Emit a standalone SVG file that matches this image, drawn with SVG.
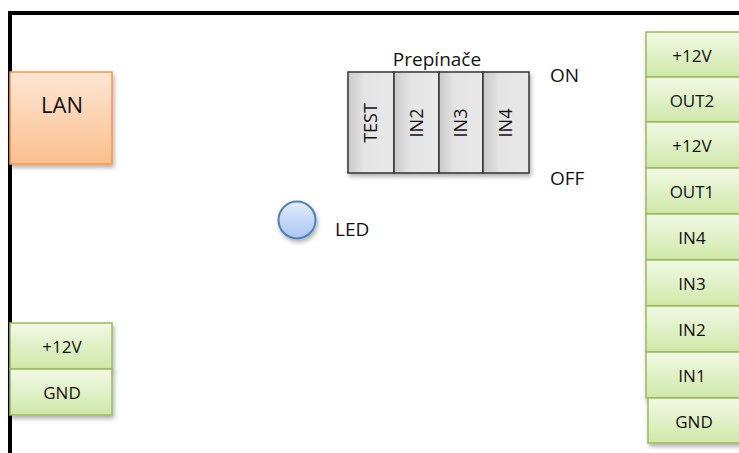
<svg xmlns="http://www.w3.org/2000/svg" width="739" height="453" viewBox="0 0 739 453">
<defs>
  <linearGradient id="gGreen" x1="0" y1="0" x2="0" y2="1">
    <stop offset="0" stop-color="#f2f9e6"/>
    <stop offset="1" stop-color="#cfe8a8"/>
  </linearGradient>
  <linearGradient id="gOrange" x1="0" y1="0" x2="0" y2="1">
    <stop offset="0" stop-color="#fee6d4"/>
    <stop offset="1" stop-color="#fbbf8e"/>
  </linearGradient>
  <linearGradient id="gGray" x1="0" y1="0" x2="1" y2="0">
    <stop offset="0" stop-color="#c9c9c9"/>
    <stop offset="0.35" stop-color="#e4e4e4"/>
    <stop offset="1" stop-color="#e9e9e9"/>
  </linearGradient>
  <linearGradient id="gBlue" x1="0" y1="0" x2="0" y2="1">
    <stop offset="0" stop-color="#e3edfc"/>
    <stop offset="1" stop-color="#a9c6f3"/>
  </linearGradient>
  <filter id="sh" x="-20%" y="-20%" width="140%" height="140%">
    <feDropShadow dx="1.5" dy="3" stdDeviation="2" flood-color="#000" flood-opacity="0.3"/>
  </filter>
</defs>
<style>
  text { font-family: "Open Sans", "Liberation Sans", sans-serif; fill: #111; }
  .green { fill: url(#gGreen); stroke: #9bbb59; stroke-width: 1.5; filter: url(#sh); }
  .orange { fill: url(#gOrange); stroke: #f79646; stroke-width: 1.5; filter: url(#sh); }
  .sw { fill: url(#gGray); stroke: #333; stroke-width: 1.5; }
  .lbl { font-size: 17px; text-anchor: middle; }
  .swl { font-size: 18px; text-anchor: middle; }
  .big { font-size: 22px; text-anchor: middle; }
  .side { font-size: 19px; }
</style>
<rect width="739" height="453" fill="#fff"/>

<g id="border">
  <path d="M10,453 V13 H739" fill="none" stroke="#000" stroke-width="4"/>
</g>

<g id="lan">
  <rect class="orange" x="10" y="72" width="102" height="92"/>
  <text class="big" x="62" y="113">LAN</text>
</g>

<g id="switches">
  <text class="side" x="437" y="66" text-anchor="middle">Prepínače</text>
  <g filter="url(#sh)">
    <rect class="sw" x="348" y="72" width="46" height="101"/>
    <rect class="sw" x="394" y="72" width="45" height="101"/>
    <rect class="sw" x="439" y="72" width="44" height="101"/>
    <rect class="sw" x="483" y="72" width="46" height="101"/>
  </g>
  <text class="swl" transform="translate(377,123) rotate(-90)">TEST</text>
  <text class="swl" transform="translate(423,123) rotate(-90)">IN2</text>
  <text class="swl" transform="translate(467,123) rotate(-90)">IN3</text>
  <text class="swl" transform="translate(512,123) rotate(-90)">IN4</text>
  <text class="side" x="550" y="82">ON</text>
  <text class="side" x="550" y="185">OFF</text>
</g>

<g id="led">
  <circle cx="297" cy="220" r="18.5" fill="url(#gBlue)" stroke="#4f81bd" stroke-width="2" filter="url(#sh)"/>
  <text class="side" x="335" y="236">LED</text>
</g>

<g id="power-left">
  <rect class="green" x="10" y="323" width="102" height="46"/>
  <text class="lbl" x="62" y="353">+12V</text>
  <rect class="green" x="10" y="369" width="102" height="46"/>
  <text class="lbl" x="62" y="399">GND</text>
</g>

<g id="terminal-right">
  <rect class="green" x="646" y="32" width="95" height="45"/>
  <text class="lbl" x="692" y="62">+12V</text>
  <rect class="green" x="646" y="77" width="95" height="45"/>
  <text class="lbl" x="692" y="107">OUT2</text>
  <rect class="green" x="646" y="122" width="95" height="46"/>
  <text class="lbl" x="692" y="152">+12V</text>
  <rect class="green" x="646" y="168" width="95" height="46"/>
  <text class="lbl" x="692" y="198">OUT1</text>
  <rect class="green" x="646" y="214" width="95" height="46"/>
  <text class="lbl" x="692" y="244">IN4</text>
  <rect class="green" x="646" y="260" width="95" height="46"/>
  <text class="lbl" x="692" y="290">IN3</text>
  <rect class="green" x="646" y="306" width="95" height="46"/>
  <text class="lbl" x="692" y="336">IN2</text>
  <rect class="green" x="646" y="352" width="95" height="46"/>
  <text class="lbl" x="692" y="382">IN1</text>
  <rect class="green" x="648" y="398" width="93" height="45"/>
  <text class="lbl" x="694" y="428">GND</text>
</g>
</svg>
